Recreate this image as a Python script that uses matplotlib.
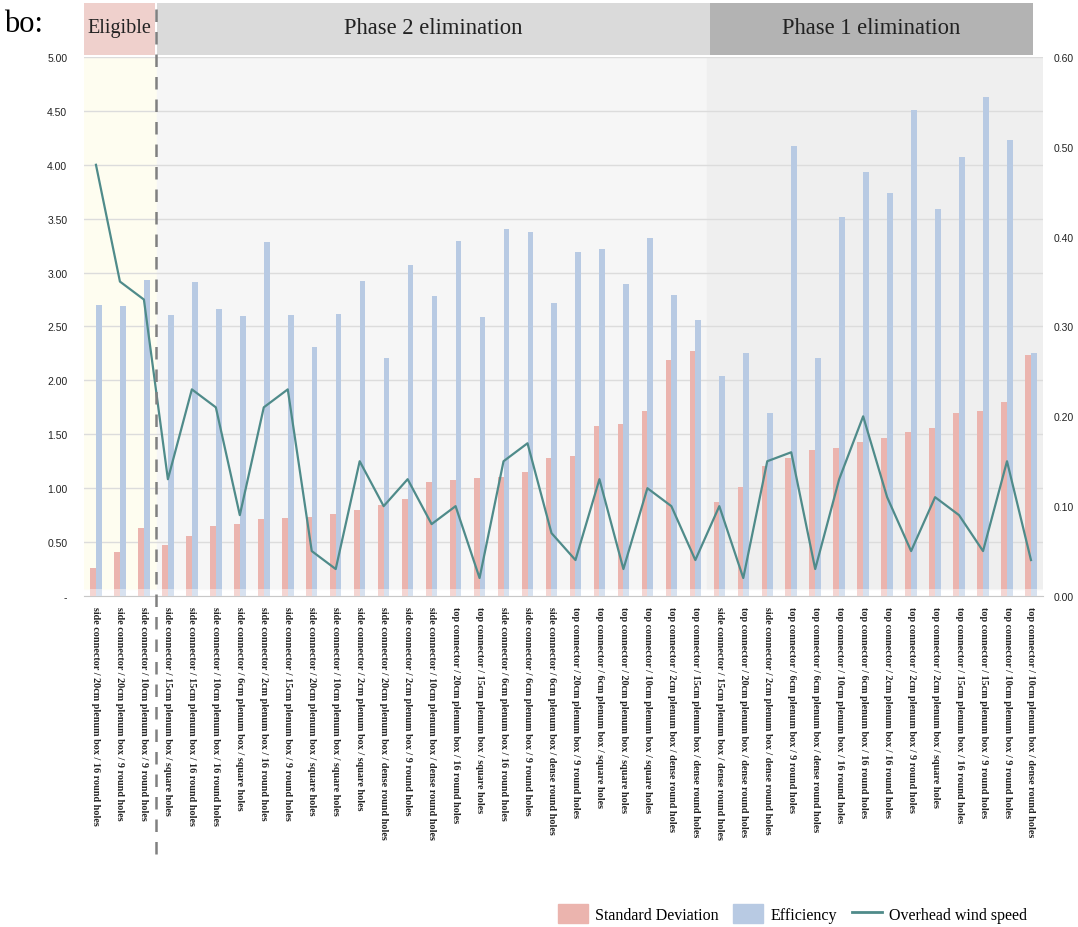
import numpy as np
import matplotlib
matplotlib.use("Agg")
import matplotlib.pyplot as plt
from matplotlib.patches import Rectangle, Patch
from matplotlib.lines import Line2D

# ========== DATA ========== #
configs = [
    "side connector / 20cm plenum box / 16 round holes",
    "side connector / 20cm plenum box / 9 round holes",
    "side connector / 10cm plenum box / 9 round holes",
    "side connector / 15cm plenum box / square holes",
    "side connector / 15cm plenum box / 16 round holes",
    "side connector / 10cm plenum box / 16 round holes",
    "side connector / 6cm plenum box / square holes",
    "side connector / 2cm plenum box / 16 round holes",
    "side connector / 15cm plenum box / 9 round holes",
    "side connector / 20cm plenum box / square holes",
    "side connector / 10cm plenum box / square holes",
    "side connector / 2cm plenum box / square holes",
    "side connector / 20cm plenum box / dense round holes",
    "side connector / 2cm plenum box / 9 round holes",
    "side connector / 10cm plenum box / dense round holes",
    "top connector / 20cm plenum box / 16 round holes",
    "top connector / 15cm plenum box / square holes",
    "side connector / 6cm plenum box / 16 round holes",
    "side connector / 6cm plenum box / 9 round holes",
    "side connector / 6cm plenum box / dense round holes",
    "top connector / 20cm plenum box / 9 round holes",
    "top connector / 6cm plenum box / square holes",
    "top connector / 20cm plenum box / square holes",
    "top connector / 10cm plenum box / square holes",
    "top connector / 2cm plenum box / dense round holes",
    "top connector / 15cm plenum box / dense round holes",
    "side connector / 15cm plenum box / dense round holes",
    "top connector / 20cm plenum box / dense round holes",
    "side connector / 2cm plenum box / dense round holes",
    "top connector / 6cm plenum box / 9 round holes",
    "top connector / 6cm plenum box / dense round holes",
    "top connector / 10cm plenum box / 16 round holes",
    "top connector / 6cm plenum box / 16 round holes",
    "top connector / 2cm plenum box / 16 round holes",
    "top connector / 2cm plenum box / 9 round holes",
    "top connector / 2cm plenum box / square holes",
    "top connector / 15cm plenum box / 16 round holes",
    "top connector / 15cm plenum box / 9 round holes",
    "top connector / 10cm plenum box / 9 round holes",
    "top connector / 10cm plenum box / dense round holes",
]

std_dev = [0.26, 0.41, 0.63, 0.47, 0.56, 0.65, 0.67, 0.71, 0.72, 0.73,
           0.76, 0.80, 0.84, 0.90, 1.06, 1.08, 1.09, 1.10, 1.15, 1.28,
           1.30, 1.58, 1.60, 1.72, 2.19, 2.27, 0.87, 1.01, 1.21, 1.28,
           1.35, 1.37, 1.43, 1.47, 1.52, 1.56, 1.70, 1.72, 1.80, 2.24]

efficiency = [2.70, 2.69, 2.93, 2.61, 2.91, 2.66, 2.60, 3.28, 2.61, 2.31,
              2.62, 2.92, 2.21, 3.07, 2.78, 3.29, 2.59, 3.40, 3.38, 2.72,
              3.19, 3.22, 2.89, 3.32, 2.79, 2.56, 2.04, 2.25, 1.70, 4.17,
              2.21, 3.52, 3.93, 3.74, 4.51, 3.59, 4.07, 4.63, 4.23, 2.25]

wind_speed = [0.48, 0.35, 0.33, 0.13, 0.23, 0.21, 0.09, 0.21, 0.23, 0.05,
              0.03, 0.15, 0.10, 0.13, 0.08, 0.10, 0.02, 0.15, 0.17, 0.07,
              0.04, 0.13, 0.03, 0.12, 0.10, 0.04, 0.10, 0.02, 0.15, 0.16,
              0.03, 0.13, 0.20, 0.11, 0.05, 0.11, 0.09, 0.05, 0.15, 0.04]

# group sizes: eligible / phase 2 / phase 1
n_eligible = 3
n_phase2 = 23
n_phase1 = 14

# ========== STYLE ========== #
pink = "#ebb4ae"
blue = "#b8cae3"
teal = "#4f8b8a"
serif = ["Liberation Serif", "DejaVu Serif"]
sans = ["Liberation Sans", "DejaVu Sans"]

fig = plt.figure(figsize=(10.78, 9.28), dpi=100)
ax = fig.add_axes([0.0779, 0.3567, 0.8896, 0.5808])

x = np.arange(len(configs))
w = 0.24
ax.bar(x - 0.12, std_dev, width=w, color=pink, zorder=2)
ax.bar(x + 0.12, efficiency, width=w, color=blue, zorder=2)

ax.set_xlim(-0.5, len(configs) - 0.5)
ax.set_ylim(0, 5)
ax.set_yticks(np.arange(0, 5.01, 0.5))
ax.set_yticklabels(["-"] + [f"{v:.2f}" for v in np.arange(0.5, 5.01, 0.5)],
                   family=sans, fontsize=7.5, color="#222222")
ax.yaxis.grid(True, color="#dcdcdc", linewidth=1, zorder=0)
ax.set_axisbelow(True)
ax.tick_params(axis="y", length=0, pad=12)
ax.tick_params(axis="x", length=0, pad=7)
ax.set_xticks(x)
ax.set_xticklabels(configs, rotation=270, ha="center", va="top",
                   family=serif, fontweight="bold", fontsize=7.3, color="#222222")
for s in ["top", "left", "right"]:
    ax.spines[s].set_visible(False)
ax.spines["bottom"].set_color("#c8c8c8")

# background per group
b1 = n_eligible - 0.5
b2 = n_eligible + n_phase2 - 0.5
ax.axvspan(-0.5, b1, ymin=0.013, ymax=1, color="#fefdf0", zorder=0)
ax.axvspan(b1 + 0.05, b2, ymin=0.013, ymax=1, color="#f6f6f6", zorder=0)
ax.axvspan(b2, len(configs) - 0.5, ymin=0.013, ymax=1, color="#efefef", zorder=0)
ax.axhspan(0, 0.065, color="white", alpha=0.45, zorder=3, linewidth=0)

# wind speed on secondary axis
ax2 = ax.twinx()
ax2.plot(x, wind_speed, color=teal, linewidth=1.6, zorder=4)
ax2.set_ylim(0, 0.6)
ax2.set_yticks(np.arange(0, 0.61, 0.1))
ax2.set_yticklabels([f"{v:.2f}" for v in np.arange(0, 0.61, 0.1)],
                    family=sans, fontsize=7.5, color="#222222")
ax2.tick_params(axis="y", length=0, pad=8)
for s in ["top", "left", "right", "bottom"]:
    ax2.spines[s].set_visible(False)

# header bands
tr = ax.get_xaxis_transform()
headers = [
    (-0.5, b1 - 0.03, "#efd0cc", "Eligible", 14.5),
    (b1 + 0.05, b2 + 0.1, "#dadada", "Phase 2 elimination", 16.3),
    (b2 + 0.1, 39.1, "#b3b3b3", "Phase 1 elimination", 16.3),
]
for x0, x1, col, txt, fs in headers:
    ax2.add_patch(Rectangle((x0, 1.004), x1 - x0, 0.097, transform=tr,
                            color=col, clip_on=False, linewidth=0))
    ax2.text((x0 + x1) / 2, 1.054, txt, transform=tr, ha="center", va="center",
             family=serif, fontsize=fs, color="#222222", clip_on=False)

# dashed divider
ax2.add_line(Line2D([b1 + 0.02, b1 + 0.02], [-0.479, 1.101], transform=tr,
                    color="#808080", linewidth=1.8, linestyle=(0, (5, 4)),
                    clip_on=False, zorder=6))

fig.text(0.004, 0.974, "bo:", family=serif, fontsize=22, ha="left", va="center")

handles = [Patch(color=pink), Patch(color=blue), Line2D([], [], color=teal, linewidth=2)]
fig.legend(handles, ["Standard Deviation", "Efficiency", "Overhead wind speed"],
           loc="center", bbox_to_anchor=(0.735, 0.0145), ncol=3, frameon=False,
           prop={"family": serif, "size": 11.5}, handlelength=1.9, handleheight=1.4,
           handletextpad=0.45, columnspacing=0.9)

fig.savefig("out.png", dpi=100)
